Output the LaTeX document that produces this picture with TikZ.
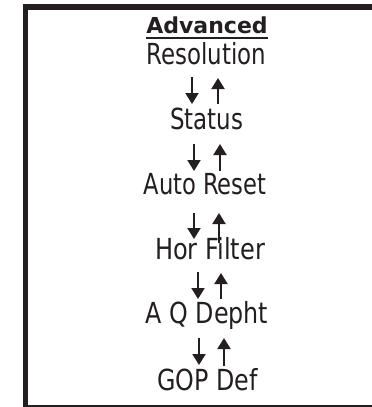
\documentclass[tikz,border=0pt]{standalone}
\usepackage{fontspec}
\setmainfont{DejaVu Sans}
\usetikzlibrary{arrows.meta}
\definecolor{ink}{HTML}{231F20}
\newcommand{\sx}[2]{\scalebox{#1}[1]{#2}}
\begin{document}
\begin{tikzpicture}[x=1pt,y=-1pt,
  item/.style={inner sep=0pt,anchor=base,text=ink,font=\fontsize{29}{29}\selectfont},
  title/.style={inner sep=0pt,anchor=base,text=ink,font=\fontsize{22}{22}\selectfont\bfseries},
  dn/.style={draw=ink,line width=2pt,-{Triangle[width=13pt,length=11pt]}},
  upar/.style={draw=ink,line width=2pt,-{Triangle[width=13pt,length=11pt]}}]
\useasboundingbox (0,0) rectangle (372,407);
% frame
\fill[ink] (23.3,4.3) rectangle (372,10);
\fill[ink] (23.3,4.3) rectangle (28.3,407);
\fill[ink] (28,404.7) rectangle (372,406.7);
% texts
\node[title] (adv) at (207,33) {Advanced};
\fill[ink] ([yshift=-4pt]adv.base west) rectangle ([yshift=-6pt]adv.base east);
\node[item] (res) at (206.5,64) {\sx{0.79}{Resolution}};
\node[item] (sta) at (206.5,129) {\sx{0.79}{Status}};
\node[item] (aut) at (205,194) {\sx{0.78}{Auto Reset}};
\node[item] (hor) at (210,259) {\sx{0.83}{Hor Filter}};
\node[item] (aqd) at (207,323) {\sx{0.82}{A Q Depht}};
\node[item] (gop) at (207.5,390) {\sx{0.82}{GOP Def}};
% arrows
\draw[dn]   ([shift={(-14.5,13)}]res.base) -- ([shift={(-14.5,-25)}]sta.base);
\draw[upar] ([shift={(11.5,-25)}]sta.base) -- ([shift={(11.5,14)}]res.base);
\draw[dn]   ([shift={(-12.5,15)}]sta.base) -- ([shift={(-11,-23)}]aut.base);
\draw[upar] ([shift={(15,-23)}]aut.base) -- ([shift={(13.5,15)}]sta.base);
\draw[dn]   ([shift={(-11,19)}]aut.base) -- ([shift={(-16,-20)}]hor.base);
\draw[upar] ([shift={(9,-16)}]hor.base) -- ([shift={(14,19)}]aut.base);
\draw[dn]   ([shift={(-12,13)}]hor.base) -- ([shift={(-9,-24)}]aqd.base);
\draw[upar] ([shift={(14,-24)}]aqd.base) -- ([shift={(11,14)}]hor.base);
\draw[dn]   ([shift={(-8,15)}]aqd.base) -- ([shift={(-8.5,-25)}]gop.base);
\draw[upar] ([shift={(16.5,-24)}]gop.base) -- ([shift={(17,15)}]aqd.base);
\end{tikzpicture}
\end{document}
